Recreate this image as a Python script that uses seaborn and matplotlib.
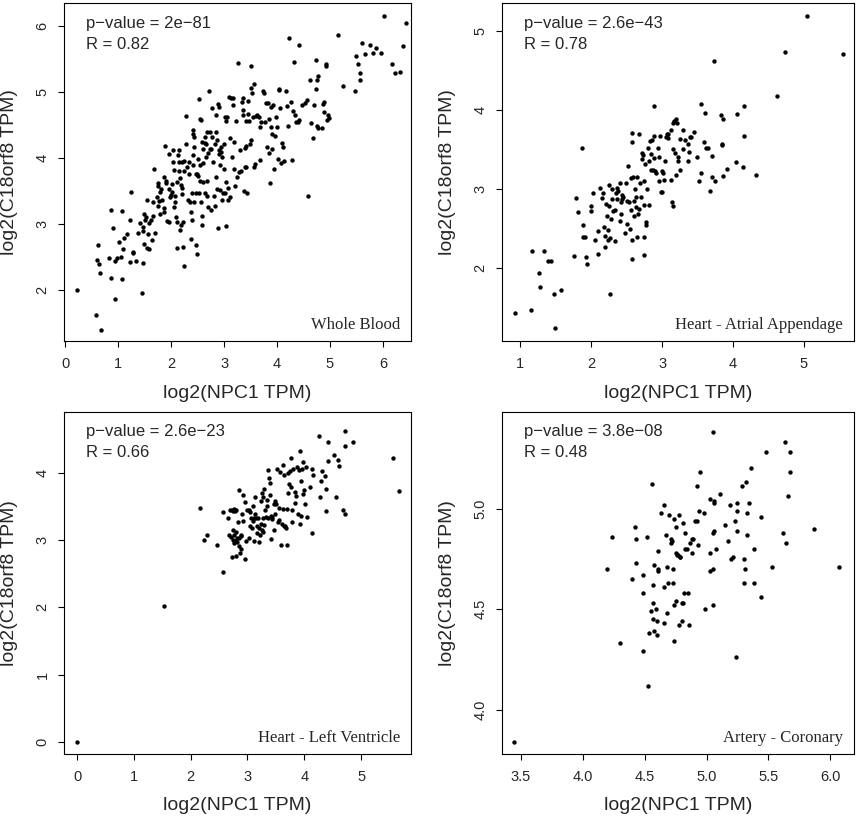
import matplotlib
matplotlib.use("Agg")
import matplotlib.pyplot as plt
import seaborn as sns

# Whole Blood
wb_x = [0.23, 0.58, 0.68, 0.59, 0.61, 0.63, 0.65, 0.83, 0.87, 0.87, 0.91, 0.93, 0.93, 0.97, 1.01, 1.05, 1.08,
        1.08, 1.09, 1.11, 1.16, 1.23, 1.23, 1.25, 1.27, 1.28, 1.34, 1.38, 1.42, 1.45, 1.46, 1.46, 1.47, 1.49,
        1.49, 1.51, 1.52, 1.55, 1.55, 1.56, 1.58, 1.58, 1.61, 1.63, 1.65, 1.66, 1.68, 1.70, 1.73, 1.75, 1.75,
        1.76, 1.77, 1.78, 1.79, 1.81, 1.83, 1.86, 1.87, 1.87, 1.89, 1.90, 1.91, 1.92, 1.95, 1.95, 1.96, 1.98,
        1.99, 2.01, 2.02, 2.04, 2.04, 2.05, 2.06, 2.07, 2.08, 2.09, 2.11, 2.11, 2.11, 2.13, 2.14, 2.15, 2.15,
        2.16, 2.17, 2.18, 2.18, 2.20, 2.20, 2.21, 2.22, 2.23, 2.25, 2.25, 2.25, 2.28, 2.28, 2.30, 2.32, 2.33,
        2.34, 2.35, 2.37, 2.38, 2.39, 2.40, 2.41, 2.41, 2.42, 2.42, 2.43, 2.44, 2.44, 2.46, 2.46, 2.47, 2.48,
        2.49, 2.50, 2.51, 2.52, 2.53, 2.54, 2.54, 2.55, 2.56, 2.57, 2.58, 2.58, 2.59, 2.60, 2.61, 2.61, 2.63,
        2.63, 2.64, 2.65, 2.66, 2.67, 2.68, 2.68, 2.69, 2.70, 2.72, 2.73, 2.74, 2.75, 2.76, 2.77, 2.78, 2.79,
        2.80, 2.82, 2.83, 2.84, 2.85, 2.85, 2.86, 2.87, 2.88, 2.89, 2.90, 2.91, 2.91, 2.92, 2.93, 2.94, 2.95,
        2.96, 2.96, 2.97, 2.99, 3.00, 3.01, 3.01, 3.03, 3.04, 3.04, 3.06, 3.07, 3.08, 3.09, 3.11, 3.12, 3.13,
        3.15, 3.16, 3.17, 3.18, 3.19, 3.20, 3.22, 3.25, 3.27, 3.28, 3.30, 3.32, 3.34, 3.35, 3.36, 3.36, 3.37,
        3.39, 3.39, 3.41, 3.42, 3.42, 3.44, 3.45, 3.46, 3.47, 3.49, 3.50, 3.51, 3.51, 3.53, 3.54, 3.56, 3.57,
        3.58, 3.60, 3.62, 3.66, 3.67, 3.68, 3.70, 3.73, 3.75, 3.78, 3.80, 3.81, 3.82, 3.84, 3.85, 3.87, 3.88,
        3.89, 3.90, 3.91, 3.92, 3.94, 3.96, 3.98, 3.99, 4.01, 4.03, 4.04, 4.06, 4.07, 4.09, 4.11, 4.13, 4.16,
        4.18, 4.21, 4.23, 4.26, 4.28, 4.31, 4.32, 4.34, 4.36, 4.39, 4.41, 4.42, 4.48, 4.53, 4.56, 4.59, 4.62,
        4.64, 4.67, 4.70, 4.73, 4.74, 4.76, 4.77, 4.75, 4.78, 4.85, 4.87, 4.89, 4.89, 4.92, 4.93, 4.94, 4.97,
        4.99, 5.15, 5.24, 5.47, 5.50, 5.53, 5.56, 5.56, 5.60, 5.67, 5.75, 5.82, 5.86, 5.96, 6.02, 6.18, 6.22,
        6.33, 6.37, 6.43]
wb_y = [2.00, 1.63, 1.40, 2.46, 2.68, 2.40, 2.26, 2.49, 3.22, 2.18, 2.94, 2.44, 1.86, 2.48, 2.73, 2.51, 2.17,
        3.20, 2.62, 2.79, 2.85, 3.07, 2.42, 3.49, 2.57, 2.58, 2.44, 2.87, 3.02, 1.95, 2.41, 2.89, 2.96, 2.70,
        3.15, 3.06, 3.11, 3.36, 2.64, 2.85, 2.63, 3.02, 3.06, 2.76, 3.33, 3.13, 3.83, 2.86, 3.41, 3.27, 3.62,
        3.58, 3.35, 3.48, 3.16, 3.54, 3.36, 3.25, 3.72, 3.18, 4.18, 3.66, 3.62, 3.05, 3.03, 4.07, 3.53, 3.41,
        3.44, 3.61, 3.48, 4.13, 3.94, 3.26, 3.82, 3.42, 3.33, 3.11, 3.03, 2.64, 3.64, 4.04, 3.94, 4.13, 3.81,
        2.91, 3.70, 3.60, 2.99, 3.55, 3.94, 3.46, 3.03, 2.66, 3.95, 2.36, 3.81, 4.64, 4.22, 3.86, 3.37, 3.94,
        3.76, 3.34, 3.18, 2.77, 3.07, 3.47, 4.43, 4.37, 4.04, 3.90, 3.33, 4.17, 4.32, 3.76, 3.47, 2.68, 3.76,
        2.55, 3.99, 3.73, 3.47, 4.89, 3.89, 4.59, 3.66, 4.58, 3.33, 4.24, 3.13, 2.99, 3.92, 4.14, 3.64, 4.23,
        3.47, 4.32, 4.02, 4.21, 4.39, 3.43, 3.66, 3.26, 4.08, 5.02, 4.14, 4.39, 3.21, 4.14, 4.32, 4.76, 3.94,
        3.43, 4.21, 3.27, 4.65, 3.71, 4.39, 3.54, 4.27, 2.94, 4.82, 4.12, 4.78, 4.06, 3.51, 3.89, 4.09, 4.17,
        3.36, 4.02, 3.47, 3.84, 4.21, 4.62, 3.47, 3.64, 2.97, 4.56, 4.62, 3.55, 3.37, 4.93, 4.31, 3.41, 4.91,
        4.02, 4.80, 4.91, 3.84, 4.24, 3.58, 4.56, 3.71, 5.44, 3.79, 4.13, 3.80, 4.85, 4.73, 4.91, 4.65, 3.50,
        4.16, 3.86, 4.18, 4.56, 3.86, 3.47, 4.87, 4.67, 4.56, 4.21, 4.27, 5.39, 5.07, 4.99, 4.62, 3.87, 5.12,
        3.91, 4.64, 4.66, 4.62, 3.97, 4.47, 4.55, 5.01, 4.98, 4.55, 4.84, 4.17, 4.83, 4.60, 4.08, 3.63, 4.47,
        4.77, 4.37, 4.14, 4.81, 3.84, 4.33, 4.62, 4.47, 3.99, 5.03, 5.04, 4.76, 3.92, 4.23, 4.17, 3.95, 5.02,
        4.79, 4.49, 5.82, 4.85, 3.97, 4.72, 5.46, 4.65, 4.55, 4.55, 5.72, 4.58, 4.81, 4.83, 4.88, 3.42, 5.19,
        4.53, 4.30, 4.80, 5.05, 5.49, 5.18, 5.25, 4.48, 4.46, 4.46, 4.82, 4.85, 4.70, 5.43, 5.39, 4.58, 4.65,
        4.61, 5.87, 5.10, 5.02, 5.55, 5.42, 5.18, 5.29, 5.75, 5.57, 5.71, 5.59, 5.67, 5.59, 6.15, 5.42, 5.29,
        5.30, 5.70, 6.04]

# Heart - Atrial Appendage
ha_x = [0.93, 1.15, 1.49, 1.17, 1.33, 1.26, 1.28, 1.39, 1.43, 1.48, 1.58, 1.76, 1.79, 1.81, 1.87, 1.89, 1.89,
        1.91, 1.92, 1.94, 1.99, 1.99, 2.03, 2.06, 2.10, 2.10, 2.13, 2.15, 2.17, 2.18, 2.19, 2.20, 2.21, 2.22,
        2.23, 2.24, 2.25, 2.25, 2.26, 2.27, 2.28, 2.29, 2.30, 2.31, 2.33, 2.34, 2.35, 2.36, 2.37, 2.38, 2.40,
        2.41, 2.42, 2.42, 2.43, 2.44, 2.45, 2.48, 2.49, 2.50, 2.51, 2.52, 2.53, 2.55, 2.56, 2.56, 2.57, 2.57,
        2.57, 2.58, 2.59, 2.60, 2.61, 2.62, 2.63, 2.63, 2.64, 2.65, 2.66, 2.67, 2.67, 2.69, 2.70, 2.71, 2.72,
        2.73, 2.74, 2.75, 2.75, 2.75, 2.76, 2.77, 2.78, 2.79, 2.80, 2.81, 2.82, 2.83, 2.84, 2.85, 2.86, 2.87,
        2.88, 2.89, 2.89, 2.90, 2.91, 2.94, 2.95, 2.96, 2.97, 2.98, 3.00, 3.00, 3.01, 3.03, 3.04, 3.05, 3.07,
        3.08, 3.09, 3.12, 3.13, 3.14, 3.15, 3.15, 3.16, 3.17, 3.18, 3.19, 3.20, 3.21, 3.22, 3.23, 3.25, 3.26,
        3.29, 3.30, 3.33, 3.36, 3.37, 3.38, 3.39, 3.41, 3.45, 3.50, 3.52, 3.55, 3.55, 3.59, 3.61, 3.62, 3.65,
        3.67, 3.71, 3.71, 3.73, 3.75, 3.83, 3.84, 3.85, 3.86, 3.86, 3.91, 4.04, 4.06, 4.14, 4.16, 4.16, 4.32,
        4.62, 4.74, 5.05, 5.56]
ha_y = [1.44, 1.47, 1.24, 2.22, 2.22, 1.94, 1.76, 2.09, 2.09, 1.68, 1.73, 2.15, 2.89, 2.71, 3.52, 2.55, 2.39,
        2.39, 2.14, 2.05, 2.78, 2.72, 2.95, 2.35, 2.47, 2.18, 3.01, 2.89, 2.95, 2.52, 2.41, 2.27, 2.81, 2.66,
        2.48, 2.36, 2.79, 3.05, 1.68, 2.38, 2.62, 2.87, 3.00, 2.72, 2.34, 2.74, 2.95, 2.87, 3.01, 2.97, 3.07,
        2.60, 2.84, 2.69, 2.92, 2.87, 2.90, 2.45, 3.07, 2.85, 2.56, 3.29, 2.83, 2.50, 3.14, 2.74, 3.71, 2.35,
        2.12, 3.60, 3.15, 2.85, 2.66, 3.00, 2.90, 2.77, 3.15, 2.39, 2.69, 3.69, 2.75, 3.07, 2.90, 3.45, 3.38,
        3.43, 3.10, 2.39, 2.17, 2.80, 3.31, 2.58, 2.54, 3.00, 3.52, 2.80, 3.36, 3.61, 3.24, 3.44, 3.62, 3.24,
        4.05, 3.39, 3.67, 3.23, 3.20, 3.52, 3.10, 3.40, 3.67, 2.96, 3.23, 2.96, 3.20, 3.11, 3.36, 3.66, 3.70,
        3.65, 3.70, 3.11, 3.75, 2.83, 2.78, 3.50, 3.84, 3.86, 3.46, 3.88, 3.18, 3.84, 3.36, 3.41, 3.24, 3.63,
        3.50, 3.75, 3.62, 3.36, 3.57, 3.47, 3.66, 3.66, 3.72, 3.41, 3.10, 4.08, 3.20, 3.59, 3.96, 3.52, 3.52,
        2.97, 3.42, 3.15, 4.62, 3.10, 3.93, 3.56, 3.57, 3.88, 3.17, 3.25, 3.34, 3.95, 3.28, 4.05, 3.67, 3.18,
        4.17, 4.73, 5.19, 4.71]

# Heart - Left Ventricle
lv_x = [0.00, 1.53, 2.17, 2.23, 2.28, 2.47, 2.57, 2.57, 2.66, 2.68, 2.70, 2.71, 2.72, 2.73, 2.74, 2.75, 2.75,
        2.76, 2.77, 2.77, 2.78, 2.78, 2.79, 2.79, 2.80, 2.81, 2.82, 2.84, 2.85, 2.85, 2.86, 2.87, 2.88, 2.89,
        2.89, 2.91, 2.92, 2.93, 2.95, 2.95, 2.97, 2.99, 3.02, 3.03, 3.05, 3.05, 3.07, 3.08, 3.09, 3.10, 3.11,
        3.12, 3.13, 3.14, 3.15, 3.16, 3.17, 3.19, 3.20, 3.21, 3.22, 3.23, 3.24, 3.25, 3.26, 3.27, 3.28, 3.28,
        3.30, 3.30, 3.31, 3.33, 3.34, 3.35, 3.36, 3.37, 3.38, 3.40, 3.40, 3.41, 3.42, 3.43, 3.44, 3.46, 3.47,
        3.48, 3.49, 3.51, 3.52, 3.53, 3.55, 3.56, 3.58, 3.59, 3.61, 3.62, 3.63, 3.64, 3.65, 3.66, 3.68, 3.69,
        3.70, 3.72, 3.72, 3.73, 3.75, 3.76, 3.77, 3.78, 3.79, 3.81, 3.83, 3.84, 3.85, 3.87, 3.89, 3.91, 3.93,
        3.93, 3.94, 3.95, 3.96, 3.97, 3.98, 3.99, 4.01, 4.03, 4.05, 4.10, 4.13, 4.14, 4.16, 4.26, 4.28, 4.29,
        4.31, 4.36, 4.38, 4.38, 4.41, 4.42, 4.53, 4.56, 4.59, 4.62, 4.68, 4.72, 4.71, 4.72, 4.85, 5.56, 5.66]
lv_y = [0.00, 2.02, 3.48, 3.00, 3.08, 2.93, 3.41, 2.52, 3.32, 3.07, 3.44, 3.05, 3.45, 2.74, 3.15, 3.00, 3.43,
        2.96, 3.46, 3.07, 2.98, 3.43, 3.12, 2.76, 3.45, 3.03, 2.97, 3.26, 3.74, 2.91, 3.03, 2.80, 2.86, 3.07,
        3.06, 3.39, 3.66, 3.28, 2.71, 3.56, 2.98, 3.45, 3.03, 3.44, 3.20, 3.41, 3.33, 3.18, 3.50, 3.28, 3.32,
        2.98, 3.39, 3.63, 3.32, 3.11, 3.21, 3.33, 3.18, 2.97, 3.07, 3.23, 3.58, 3.15, 3.69, 3.33, 3.12, 3.64,
        3.22, 3.76, 3.45, 3.34, 3.60, 3.50, 3.32, 4.04, 3.92, 3.85, 3.66, 3.36, 3.01, 3.31, 3.34, 3.15, 3.53,
        3.58, 3.38, 3.54, 4.06, 3.27, 3.48, 3.30, 4.01, 2.93, 3.23, 3.46, 4.11, 3.96, 3.21, 3.21, 3.18, 2.93,
        3.46, 3.70, 4.00, 3.83, 4.02, 4.21, 3.79, 3.26, 3.45, 4.06, 3.71, 3.55, 3.65, 4.09, 3.39, 4.04, 4.32,
        3.23, 3.36, 3.88, 4.06, 4.16, 3.68, 3.74, 3.53, 4.09, 3.34, 3.78, 3.10, 4.06, 3.96, 4.54, 3.63, 3.88,
        4.02, 3.95, 3.76, 3.43, 4.46, 4.17, 4.26, 3.63, 4.19, 4.10, 3.44, 4.62, 4.39, 3.38, 4.46, 4.21, 3.72]

# Artery - Coronary
ac_x = [3.45, 4.20, 4.24, 4.30, 4.40, 4.42, 4.43, 4.43, 4.49, 4.49, 4.49, 4.52, 4.53, 4.54, 4.55, 4.56, 4.57,
        4.57, 4.57, 4.58, 4.58, 4.59, 4.60, 4.60, 4.61, 4.61, 4.61, 4.63, 4.66, 4.66, 4.66, 4.67, 4.68, 4.68,
        4.69, 4.70, 4.71, 4.71, 4.72, 4.73, 4.73, 4.74, 4.74, 4.74, 4.75, 4.75, 4.75, 4.76, 4.77, 4.78, 4.78,
        4.79, 4.79, 4.80, 4.80, 4.81, 4.81, 4.82, 4.83, 4.83, 4.84, 4.85, 4.86, 4.87, 4.88, 4.88, 4.89, 4.91,
        4.92, 4.92, 4.93, 4.94, 4.95, 4.98, 4.99, 5.03, 5.03, 5.03, 5.05, 5.05, 5.05, 5.05, 5.06, 5.06, 5.06,
        5.08, 5.11, 5.15, 5.17, 5.19, 5.20, 5.21, 5.24, 5.23, 5.25, 5.25, 5.25, 5.29, 5.30, 5.30, 5.31, 5.32,
        5.33, 5.33, 5.34, 5.36, 5.38, 5.38, 5.44, 5.44, 5.48, 5.53, 5.62, 5.63, 5.64, 5.66, 5.67, 5.67, 5.87,
        6.07]
ac_y = [3.84, 4.70, 4.86, 4.33, 4.65, 4.91, 4.73, 4.85, 4.67, 4.29, 4.58, 4.86, 4.12, 4.38, 4.49, 5.12, 4.62,
        4.45, 4.53, 4.72, 4.39, 4.50, 4.44, 4.37, 4.69, 4.79, 4.70, 4.98, 4.61, 4.43, 5.02, 4.87, 4.71, 4.48,
        4.63, 4.97, 4.85, 4.83, 4.84, 4.70, 4.63, 4.95, 4.52, 4.34, 4.54, 4.78, 4.91, 4.77, 4.77, 4.42, 4.97,
        4.76, 4.76, 4.53, 4.44, 4.93, 4.53, 4.58, 4.80, 4.88, 4.80, 4.58, 4.42, 4.83, 4.78, 4.85, 4.85, 4.94,
        4.94, 5.11, 4.82, 4.99, 5.18, 4.98, 4.50, 4.78, 4.69, 5.05, 4.52, 4.70, 5.38, 4.88, 5.04, 4.89, 5.03,
        4.80, 5.07, 4.92, 4.84, 5.02, 4.75, 4.76, 4.26, 4.94, 4.89, 4.99, 5.03, 5.11, 4.75, 4.63, 4.70, 5.13,
        4.98, 4.87, 5.03, 5.20, 4.80, 4.63, 4.56, 4.96, 5.28, 4.71, 4.88, 5.33, 4.83, 5.06, 5.28, 5.18, 4.90,
        4.71]

panels = [
    (wb_x, wb_y, "p\u2212value = 2e\u221281", "R = 0.82", "Whole Blood",
     [0, 1, 2, 3, 4, 5, 6], [2, 3, 4, 5, 6], (-0.025, 6.53), (1.23, 6.35), "%g"),
    (ha_x, ha_y, "p\u2212value = 2.6e\u221243", "R = 0.78", "Heart - Atrial Appendage",
     [1, 2, 3, 4, 5], [2, 3, 4, 5], (0.74, 5.71), (1.08, 5.35), "%g"),
    (lv_x, lv_y, "p\u2212value = 2.6e\u221223", "R = 0.66", "Heart - Left Ventricle",
     [0, 1, 2, 3, 4, 5], [0, 1, 2, 3, 4], (-0.23, 5.88), (-0.18, 4.90), "%g"),
    (ac_x, ac_y, "p\u2212value = 3.8e\u221208", "R = 0.48", "Artery - Coronary",
     [3.5, 4.0, 4.5, 5.0, 5.5, 6.0], [4.0, 4.5, 5.0], (3.35, 6.19), (3.78, 5.48), "%.1f"),
]

# axes boxes in pixels: left, top, right, bottom
boxes = [(64, 3, 411, 341), (502, 3, 854, 341), (64, 412, 411, 754), (502, 412, 854, 754)]

sns.set_style("ticks")
plt.rcParams['font.family'] = ['Liberation Sans', 'DejaVu Sans']

W, H = 858, 819
fig = plt.figure(figsize=(W / 100, H / 100), dpi=100)

for (x, y, ptxt, rtxt, tissue, xt, yt, xl, yl, fmt), (l, t, r, b) in zip(panels, boxes):
    ax = fig.add_axes([l / W, 1 - b / H, (r - l) / W, (b - t) / H])
    sns.scatterplot(x=x, y=y, ax=ax, color="black", s=10, linewidth=0)
    ax.set_xlim(*xl)
    ax.set_ylim(*yl)
    ax.set_xticks(xt)
    ax.set_yticks(yt)
    ax.set_xticklabels([fmt % v for v in xt])
    ax.set_yticklabels([fmt % v for v in yt], rotation=90, va="center")
    ax.tick_params(axis="both", direction="out", length=4.5, width=0.8, labelsize=10.5, color="black")
    ax.tick_params(axis="x", pad=7)
    ax.tick_params(axis="y", pad=6)
    for sp in ax.spines.values():
        sp.set_visible(True)
        sp.set_color("black")
        sp.set_linewidth(0.8)
    w = r - l
    h = b - t
    ax.set_xlabel("log2(NPC1 TPM)", fontsize=14, va="center")
    ax.set_ylabel("log2(C18orf8 TPM)", fontsize=14, va="center")
    ax.xaxis.set_label_coords(0.5, -52 / h)
    ax.yaxis.set_label_coords(-54 / w, 0.5)
    ax.text(22 / w, 1 - 20 / h, ptxt, transform=ax.transAxes, fontsize=12, ha="left", va="center")
    ax.text(22 / w, 1 - 41 / h, rtxt, transform=ax.transAxes, fontsize=12, ha="left", va="center")
    ax.text(1 - 11 / w, 16 / h, tissue, transform=ax.transAxes, fontsize=12, ha="right", va="center",
            family=["Liberation Serif", "DejaVu Serif"])

fig.savefig("out.png", dpi=100)
